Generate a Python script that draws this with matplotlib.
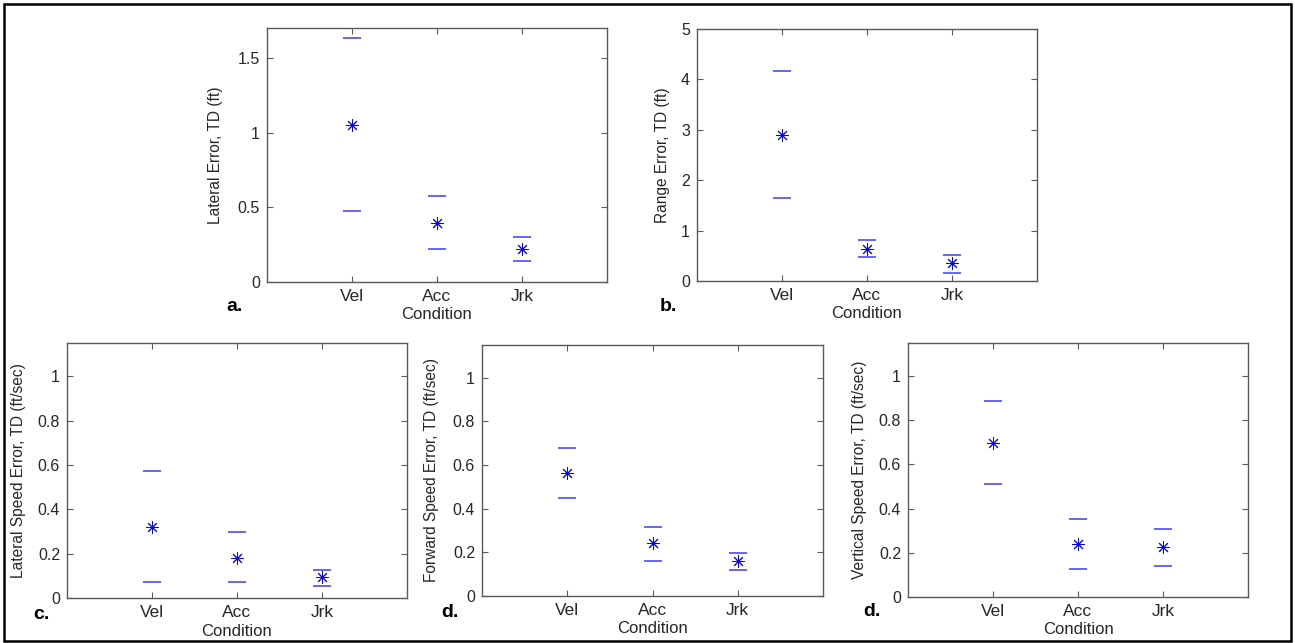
import matplotlib
matplotlib.use("Agg")
import matplotlib.pyplot as plt
from matplotlib.ticker import FuncFormatter
from matplotlib.patches import Rectangle

conditions = ["Vel", "Acc", "Jrk"]

lat_err_mean = [1.052, 0.394, 0.221]
lat_err_upper = [1.634, 0.573, 0.301]
lat_err_lower = [0.475, 0.223, 0.143]

range_err_mean = [2.90, 0.64, 0.35]
range_err_upper = [4.16, 0.82, 0.51]
range_err_lower = [1.65, 0.48, 0.16]

lat_spd_mean = [0.321, 0.182, 0.093]
lat_spd_upper = [0.573, 0.297, 0.126]
lat_spd_lower = [0.070, 0.070, 0.056]

fwd_spd_mean = [0.562, 0.243, 0.161]
fwd_spd_upper = [0.676, 0.315, 0.197]
fwd_spd_lower = [0.448, 0.160, 0.119]

vert_spd_mean = [0.697, 0.241, 0.225]
vert_spd_upper = [0.888, 0.355, 0.308]
vert_spd_lower = [0.512, 0.129, 0.141]

plt.rcParams['font.family'] = ['Liberation Sans', 'DejaVu Sans']

W, H = 1295, 643
fig = plt.figure(figsize=(W / 100, H / 100), dpi=100)

def px_rect(l, t, r, b):
    return [l / W, 1 - b / H, (r - l) / W, (b - t) / H]

panels = [
    dict(rect=px_rect(267, 28, 607, 282), mean=lat_err_mean, up=lat_err_upper, lo=lat_err_lower,
         ylim=(0, 1.7), yticks=[0, 0.5, 1, 1.5], ylabel="Lateral Error, TD (ft)",
         ylx=-0.129, tag="a.", tagxy=(226, 311)),
    dict(rect=px_rect(697, 29, 1037, 281), mean=range_err_mean, up=range_err_upper, lo=range_err_lower,
         ylim=(0, 5), yticks=[0, 1, 2, 3, 4, 5], ylabel="Range Error, TD (ft)",
         ylx=-0.080, tag="b.", tagxy=(660, 311)),
    dict(rect=px_rect(67, 343, 407, 598), mean=lat_spd_mean, up=lat_spd_upper, lo=lat_spd_lower,
         ylim=(0, 1.15), yticks=[0, 0.2, 0.4, 0.6, 0.8, 1], ylabel="Lateral Speed Error, TD (ft/sec)",
         ylx=-0.122, tag="c.", tagxy=(33, 619)),
    dict(rect=px_rect(482, 345, 823, 596), mean=fwd_spd_mean, up=fwd_spd_upper, lo=fwd_spd_lower,
         ylim=(0, 1.15), yticks=[0, 0.2, 0.4, 0.6, 0.8, 1], ylabel="Forward Speed Error, TD (ft/sec)",
         ylx=-0.127, tag="d.", tagxy=(441, 617)),
    dict(rect=px_rect(908, 343, 1248, 597), mean=vert_spd_mean, up=vert_spd_upper, lo=vert_spd_lower,
         ylim=(0, 1.15), yticks=[0, 0.2, 0.4, 0.6, 0.8, 1], ylabel="Vertical Speed Error, TD (ft/sec)",
         ylx=-0.122, tag="d.", tagxy=(863, 616)),
]

spine_col = "#5a5a5a"
text_col = "#262626"
x = [1, 2, 3]

for p in panels:
    ax = fig.add_axes(p["rect"])
    ax.plot(x, p["up"], linestyle="none", marker="_", markersize=12.5, markeredgewidth=1.1, color="#3a3aff")
    ax.plot(x, p["lo"], linestyle="none", marker="_", markersize=12.5, markeredgewidth=1.1, color="#3a3aff")
    ax.plot(x, p["mean"], linestyle="none", marker=(8, 2, 0), markersize=9, markeredgewidth=0.7, color="#0000ff")
    ax.set_xlim(0, 4)
    ax.set_ylim(*p["ylim"])
    ax.set_xticks(x)
    ax.set_xticklabels(conditions)
    ax.set_yticks(p["yticks"])
    ax.yaxis.set_major_formatter(FuncFormatter(lambda v, pos: "%g" % v))
    ax.tick_params(direction="in", top=True, right=True, length=4, width=0.8,
                   colors=spine_col, labelcolor=text_col, pad=5)
    ax.tick_params(axis="x", labelsize=12.5)
    ax.tick_params(axis="y", labelsize=11.5)
    for s in ax.spines.values():
        s.set_color(spine_col)
        s.set_linewidth(1.0)
    ax.set_ylabel(p["ylabel"], fontsize=11.2, color=text_col)
    ax.yaxis.set_label_coords(p["ylx"], 0.5)
    ax.set_xlabel("Condition", fontsize=12, color=text_col)
    ax.xaxis.set_label_coords(0.5, -0.10)
    tx, ty = p["tagxy"]
    fig.text(tx / W, 1 - ty / H, p["tag"], fontsize=14, fontweight="bold", color="black",
             ha="left", va="baseline")

fig.patches.append(Rectangle((4 / W, 1 - 641 / H), (1291 - 4) / W, (641 - 4) / H,
                             transform=fig.transFigure, fill=False, edgecolor="black", linewidth=1.8))

fig.savefig("out.png", dpi=100)
